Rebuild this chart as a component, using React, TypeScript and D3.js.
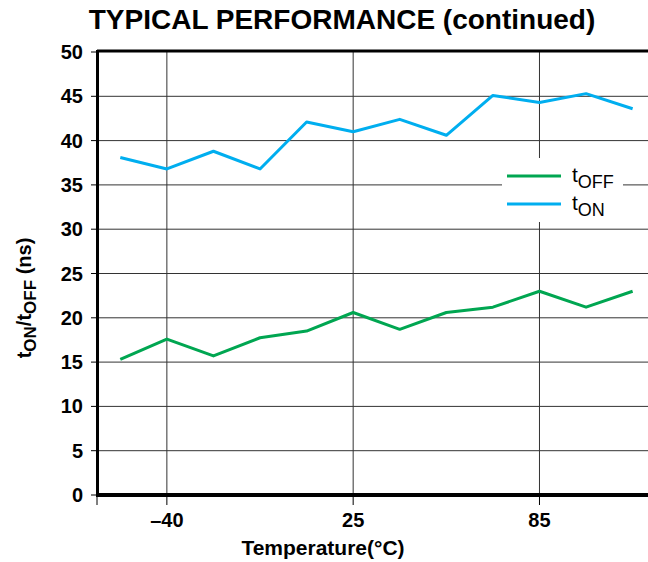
import * as d3 from 'd3'

// temperatures (°C) — evenly spaced on the plot, only some are labelled
const temps = [-55, -40, -25, -10, 5, 25, 40, 55, 70, 85, 100, 125]
const tOn = [38.1, 36.8, 38.8, 36.8, 42.1, 41.0, 42.4, 40.6, 45.1, 44.3, 45.3, 43.6]
const tOff = [15.3, 17.6, 15.7, 17.75, 18.5, 20.6, 18.7, 20.6, 21.2, 23.0, 21.2, 23.0]
const xLabels = ['-40', '25', '85']
const yTicks = [0, 5, 10, 15, 20, 25, 30, 35, 40, 45, 50]

const FONT = '"Liberation Sans", Arial, Helvetica, sans-serif'

export default function App() {
  const width = 648
  const height = 562
  const left = 97
  const top = 52
  const bottom = 495

  const x = d3.scaleLinear().domain([-0.5, 11.33]).range([left, width])
  const y = d3.scaleLinear().domain([0, 50]).range([bottom, top])

  const line = d3.line<number>()
    .x((_, i) => x(i))
    .y(d => y(d))

  const labelIdx = xLabels.map(l => temps.indexOf(+l))

  return (
    <svg
      width={width}
      height={height}
      style={{ position: 'absolute', left: 0, top: 0, background: '#fff' }}
      fontFamily={FONT}
    >
      <text x={342} y={29} textAnchor="middle" fontSize={28} fontWeight="bold">
        TYPICAL PERFORMANCE (continued)
      </text>

      {/* grid */}
      {yTicks.filter(t => t > 0 && t < 50).map(t => (
        <line key={'h' + t} x1={left} x2={width} y1={y(t)} y2={y(t)} stroke="#333" strokeWidth={1} />
      ))}
      {labelIdx.map(i => (
        <line key={'v' + i} x1={x(i)} x2={x(i)} y1={top} y2={bottom} stroke="#333" strokeWidth={1} />
      ))}

      {/* ticks */}
      {yTicks.map(t => (
        <line key={'yt' + t} x1={91} x2={left} y1={y(t)} y2={y(t)} stroke="#000" strokeWidth={1} />
      ))}
      {[-0.5, ...labelIdx].map(i => (
        <line key={'xt' + i} x1={x(i)} x2={x(i)} y1={bottom} y2={bottom + 10} stroke="#000" strokeWidth={1} />
      ))}

      {/* frame */}
      <line x1={left} x2={width} y1={top - 1} y2={top - 1} stroke="#000" strokeWidth={3} />
      <line x1={left + 0.5} x2={left + 0.5} y1={top - 2} y2={bottom + 2} stroke="#000" strokeWidth={3} />
      <line x1={left} x2={width} y1={bottom} y2={bottom} stroke="#000" strokeWidth={4} />

      {/* legend box hides the grid */}
      <rect x={502} y={158} width={121} height={64} fill="#fff" />

      <path d={line(tOn) || ''} fill="none" stroke="#00aeef" strokeWidth={3} strokeLinejoin="round" />
      <path d={line(tOff) || ''} fill="none" stroke="#00a651" strokeWidth={3} strokeLinejoin="round" />

      {/* legend */}
      <line x1={507} x2={561} y1={176} y2={176} stroke="#00a651" strokeWidth={3} />
      <text x={572} y={182} fontSize={21}>
        t<tspan fontSize={18} dy={6}>OFF</tspan>
      </text>
      <line x1={507} x2={561} y1={204} y2={204} stroke="#00aeef" strokeWidth={3} />
      <text x={572} y={210} fontSize={21}>
        t<tspan fontSize={18} dy={6}>ON</tspan>
      </text>

      {/* y tick labels */}
      {yTicks.map(t => (
        <text key={'yl' + t} x={83} y={y(t) + 7} textAnchor="end" fontSize={20} fontWeight="bold">
          {t}
        </text>
      ))}

      {/* x tick labels */}
      {labelIdx.map((i, k) => (
        <text key={'xl' + i} x={x(i)} y={527} textAnchor="middle" fontSize={20} fontWeight="bold">
          {xLabels[k].replace('-', '\u2013')}
        </text>
      ))}

      <text x={323} y={555} textAnchor="middle" fontSize={21} fontWeight="bold">
        Temperature(°C)
      </text>

      <text transform="translate(31,298) rotate(-90)" textAnchor="middle" fontSize={20} fontWeight="bold">
        t<tspan fontSize={17} dy={5}>ON</tspan>
        <tspan dy={-5}>/t</tspan>
        <tspan fontSize={17} dy={5}>OFF</tspan>
        <tspan dy={-5}> (ns)</tspan>
      </text>
    </svg>
  )
}
